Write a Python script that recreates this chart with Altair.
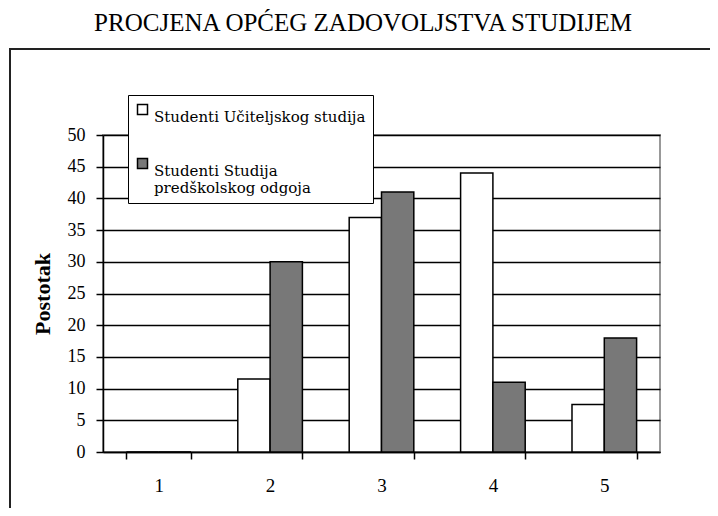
import altair as alt
import pandas as pd

title_text = "PROCJENA OPĆEG ZADOVOLJSTVA STUDIJEM"
categories = ["1", "2", "3", "4", "5"]
series_names = ["Studenti Učiteljskog studija", "Studenti Studija\npredškolskog odgoja"]
ucitelj = [0, 11.5, 37, 44, 7.5]
predskolski = [0, 30, 41, 11, 18]
y_ticks = [0, 5, 10, 15, 20, 25, 30, 35, 40, 45, 50]

rows = []
for c, a, b in zip(categories, ucitelj, predskolski):
    rows.append({"cat": c, "series": series_names[0], "value": a})
    rows.append({"cat": c, "series": series_names[1], "value": b})
df = pd.DataFrame(rows)

serif = "Liberation Serif"

frame = alt.Chart(pd.DataFrame({"a": [0]})).mark_rect(
    fillOpacity=0, stroke="#222222", strokeWidth=2, clip=False
).encode(
    x=alt.value(-93), x2=alt.value(640), y=alt.value(-86), y2=alt.value(420)
)

title = alt.Chart(pd.DataFrame({"t": [title_text]})).mark_text(
    font=serif, fontSize=25, color="black", align="center", baseline="alphabetic",
    clip=False
).encode(
    text="t:N", x=alt.value(260), y=alt.value(-104)
)

bars = alt.Chart(df).mark_bar(stroke="black", strokeWidth=1.5).encode(
    x=alt.X("cat:O", sort=categories,
            scale=alt.Scale(paddingInner=0.42, paddingOuter=0.21),
            axis=alt.Axis(title=None, labelAngle=0, tickBand="extent",
                          labelFont=serif, labelFontSize=19, labelColor="black",
                          labelPadding=17, tickSize=7, tickColor="black", tickWidth=1.5,
                          domainColor="black", domainWidth=1.5, grid=False)),
    xOffset=alt.XOffset("series:N", sort=series_names),
    y=alt.Y("value:Q", scale=alt.Scale(domain=[0, 50], nice=False),
            axis=alt.Axis(title="Postotak", values=y_ticks,
                          labelFont=serif, labelFontSize=18, labelColor="black",
                          labelPadding=11, tickSize=7, tickColor="black", tickWidth=1.5,
                          domainColor="black", domainWidth=1.5,
                          grid=True, gridColor="black", gridWidth=1.6,
                          titleFont=serif, titleFontSize=22, titleFontWeight="bold",
                          titleColor="black", titlePadding=13)),
    fill=alt.Fill("series:N", sort=series_names,
                  scale=alt.Scale(domain=series_names, range=["white", "#787878"]),
                  legend=alt.Legend(title=None, orient="none", legendX=25, legendY=-40,
                                    direction="vertical",
                                    fillColor="white", strokeColor="black",
                                    padding=7, rowPadding=30,
                                    symbolType="square", symbolSize=100,
                                    symbolStrokeColor="black", symbolStrokeWidth=1.5,
                                    labelFont="DejaVu Serif", labelFontSize=15,
                                    labelOffset=4,
                                    labelColor="black", labelLimit=400,
                                    labelExpr="split(datum.label, '\\n')",
                                    labelBaseline="top", symbolOffset=0)),
)

chart = alt.layer(frame, title, bars).properties(
    width=557, height=317,
    autosize=alt.AutoSizeParams(type="none"),
    padding={"left": 95, "top": 127, "right": 50, "bottom": 56},
).configure_view(stroke="#999999", strokeWidth=2)

chart.save("out.html", embed_options={"renderer": "svg", "actions": False})
